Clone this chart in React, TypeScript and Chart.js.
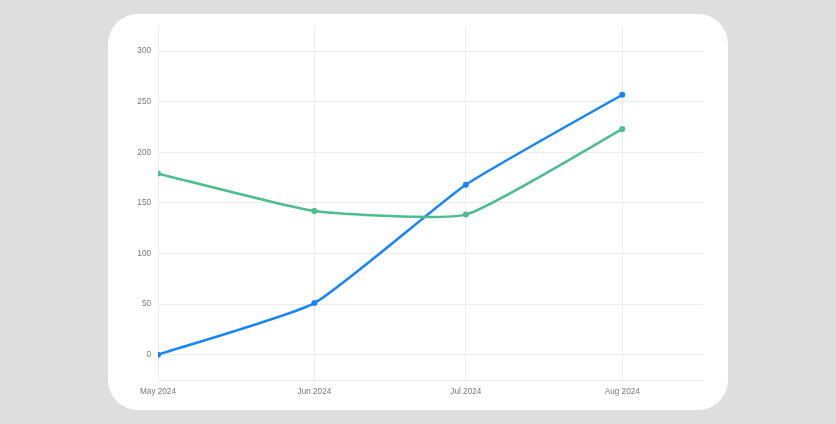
import React, { useEffect, useRef } from "react";
import { Chart, registerables } from "chart.js";

Chart.register(...registerables);

const dates = ["2024-05-01", "2024-06-01", "2024-07-01", "2024-08-01"];
const tickLabels = ["May 2024", "Jun 2024", "Jul 2024", "Aug 2024"];
const axisStart = "2024-05-01";
const axisEnd = "2024-08-17";
const blueValues = [0, 51, 168, 257];
const greenValues = [179, 142, 138.5, 223];
const yTicks = [0, 50, 100, 150, 200, 250, 300];
const yMin = -25;
const yMax = 325;

const DAY = 86400000;
const toDay = (d: string) => (Date.parse(d + "T00:00:00Z") - Date.parse(axisStart + "T00:00:00Z")) / DAY;

export default function App() {
  const ref = useRef<HTMLCanvasElement | null>(null);
  useEffect(() => {
    if (!ref.current) return;
    const xs = dates.map(toDay);
    const font = { family: "'Liberation Sans', Arial, Helvetica, sans-serif", size: 8.2 };
    const gridColor = "#ececec";
    const chart = new Chart(ref.current, {
      type: "line",
      data: {
        datasets: [
          {
            label: "Green",
            data: xs.map((x, i) => ({ x, y: greenValues[i] })),
            borderColor: "#4bbd8e",
            backgroundColor: "#4bbd8e",
            borderWidth: 2.5,
            pointRadius: 3,
            pointBorderWidth: 0,
            tension: 0.15,
          },
          {
            label: "Blue",
            data: xs.map((x, i) => ({ x, y: blueValues[i] })),
            borderColor: "#1784fb",
            backgroundColor: "#1784fb",
            borderWidth: 2.5,
            pointRadius: 3,
            pointBorderWidth: 0,
            tension: 0.15,
          },
        ],
      },
      options: {
        animation: false,
        responsive: true,
        maintainAspectRatio: false,
        layout: { padding: { top: 11, right: 25, bottom: 0, left: 0 } },
        plugins: { legend: { display: false }, tooltip: { enabled: false } },
        scales: {
          x: {
            type: "linear",
            min: 0,
            max: toDay(axisEnd),
            afterBuildTicks: (s: any) => {
              s.ticks = xs.map((v) => ({ value: v }));
            },
            afterFit: (s: any) => {
              s.height = 30;
            },
            ticks: {
              autoSkip: false,
              maxRotation: 0,
              padding: 7,
              color: "#777",
              font,
              callback: (v: any) => {
                const i = xs.indexOf(Number(v));
                return i >= 0 ? tickLabels[i] : "";
              },
            },
            grid: { color: gridColor, drawTicks: false },
            border: { color: gridColor },
          },
          y: {
            min: yMin,
            max: yMax,
            afterBuildTicks: (s: any) => {
              s.ticks = yTicks.map((v) => ({ value: v }));
            },
            afterFit: (s: any) => {
              s.width = 50;
            },
            ticks: { padding: 7, color: "#777", font },
            grid: { color: gridColor, drawTicks: false },
            border: { color: gridColor },
          },
        },
      },
    });
    return () => chart.destroy();
  }, []);

  return (
    <div
      style={{
        position: "fixed",
        inset: 0,
        background: "#dedede",
        display: "flex",
        alignItems: "center",
        justifyContent: "center",
      }}
    >
      <div
        style={{
          position: "relative",
          width: 620,
          height: 396,
          background: "#ffffff",
          borderRadius: 30,
        }}
      >
        <div style={{ position: "absolute", inset: 0 }}>
          <canvas ref={ref} />
        </div>
      </div>
    </div>
  );
}
